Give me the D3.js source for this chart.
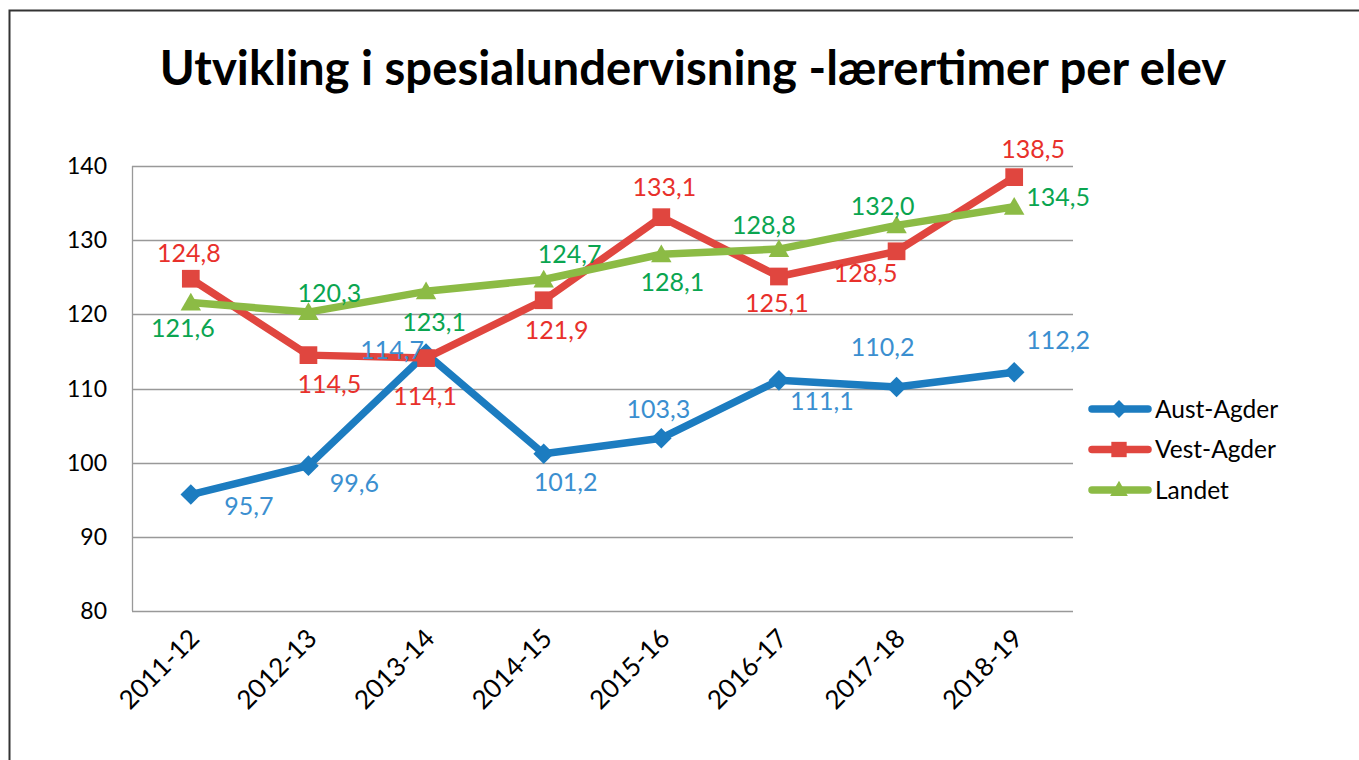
<!DOCTYPE html>
<html>
<head>
<meta charset="utf-8">
<script src="https://cdn.jsdelivr.net/npm/d3@7/dist/d3.min.js"></script>
<style>
  html, body { margin: 0; padding: 0; background: #fff; }
  svg { display: block; }
</style>
</head>
<body>
<svg id="chart" width="1359" height="760"></svg>
<script>
// School years on the x axis
const years = ["2011-12", "2012-13", "2013-14", "2014-15", "2015-16", "2016-17", "2017-18", "2018-19"];

// Teacher hours per pupil in special education
const austAgder = [95.7, 99.6, 114.7, 101.2, 103.3, 111.1, 110.2, 112.2];
const vestAgder = [124.8, 114.5, 114.1, 121.9, 133.1, 125.1, 128.5, 138.5];
const landet    = [121.6, 120.3, 123.1, 124.7, 128.1, 128.8, 132.0, 134.5];

const seriesNames = ["Aust-Agder", "Vest-Agder", "Landet"];
const yTicks = [80, 90, 100, 110, 120, 130, 140];

// Data label offsets (px) from each marker, per series
const labelOffsets = [
  [[58, 12], [46, 18], [-34, -3], [22, 28], [-3, -29], [43, 21], [-14, -40], [44, -32]],
  [[-2, -25], [21, 29], [-1, 38], [13, 30], [3, -30], [-2, 27], [-31, 22], [19, -28]],
  [[-8, 26], [21, -19], [8, 31], [26, -25], [11, 28], [-15, -24], [-14, -19], [44, -10]]
];

const lineColors  = ["#1c7cc0", "#e0463f", "#8cbb45"];
const labelColors = ["#3b8fd0", "#e8302b", "#0aa550"];
const symbols = [d3.symbolDiamond2, d3.symbolSquare2, d3.symbolTriangle2];
const font = "Lato, 'Open Sans', sans-serif";

const svg = d3.select("#chart");

// outer frame
svg.append("rect")
  .attr("x", 9.5).attr("y", 10.5)
  .attr("width", 1400).attr("height", 800)
  .attr("fill", "none").attr("stroke", "#333").attr("stroke-width", 2);

const plot = { left: 132, right: 1073, top: 166, bottom: 611 };

const x = d3.scaleBand().domain(years).range([plot.left, plot.right]);
const y = d3.scaleLinear().domain([80, 140]).range([plot.bottom, plot.top]);
const cx = d => x(d) + x.bandwidth() / 2;

// horizontal grid
svg.append("g").selectAll("line").data(yTicks).join("line")
  .attr("x1", plot.left).attr("x2", plot.right)
  .attr("y1", d => Math.round(y(d)) + 0.5).attr("y2", d => Math.round(y(d)) + 0.5)
  .attr("stroke", "#999").attr("stroke-width", 1.3);

// left axis line
svg.append("line")
  .attr("x1", plot.left + 0.5).attr("x2", plot.left + 0.5)
  .attr("y1", plot.top).attr("y2", plot.bottom)
  .attr("stroke", "#999").attr("stroke-width", 1.3);

// y tick labels
svg.append("g").selectAll("text").data(yTicks).join("text")
  .attr("x", 107).attr("y", d => y(d))
  .attr("dy", "0.35em")
  .attr("text-anchor", "end")
  .attr("font-family", font).attr("font-size", 23).attr("fill", "#000")
  .text(d => d);

// x tick labels, rotated
svg.append("g").selectAll("text").data(years).join("text")
  .attr("transform", d => `translate(${cx(d) + 10},${plot.bottom + 29}) rotate(-45)`)
  .attr("text-anchor", "end")
  .attr("font-family", font).attr("font-size", 26).attr("fill", "#000")
  .text(d => d);

// title
const title = svg.append("text")
  .attr("x", 693).attr("y", 85)
  .attr("text-anchor", "middle")
  .attr("font-family", font).attr("font-weight", "bold")
  .attr("font-size", 37).attr("fill", "#000")
  .text("Utvikling i spesialundervisning -lærertimer per elev");
const tw = title.node().getComputedTextLength();
title.attr("font-size", 37 * 1067 / tw);

const allSeries = [austAgder, vestAgder, landet];
const line = d3.line().x((d, i) => cx(years[i])).y(d => y(d));

const markerSizes = [270, 400, 300];

// lines and markers
allSeries.forEach((vals, s) => {
  svg.append("path").datum(vals)
    .attr("d", line)
    .attr("fill", "none").attr("stroke", lineColors[s])
    .attr("stroke-width", 7.5).attr("stroke-linejoin", "round");
  svg.append("g").selectAll("path").data(vals).join("path")
    .attr("transform", (d, i) => `translate(${cx(years[i])},${y(d) + (s === 2 ? 2 : 0)})`)
    .attr("d", d3.symbol().type(symbols[s]).size(markerSizes[s]))
    .attr("fill", lineColors[s]);
});

// data labels
const fmt = v => v.toFixed(1).replace(".", ",");
allSeries.forEach((vals, s) => {
  svg.append("g").selectAll("text").data(vals).join("text")
    .attr("x", (d, i) => cx(years[i]) + labelOffsets[s][i][0])
    .attr("y", (d, i) => y(d) + labelOffsets[s][i][1])
    .attr("dy", "0.35em")
    .attr("text-anchor", "middle")
    .attr("font-family", font).attr("font-size", 25)
    .attr("fill", labelColors[s])
    .text(d => fmt(d));
});

// legend
const legend = svg.append("g");
seriesNames.forEach((name, s) => {
  const ly = 409 + s * 40.5;
  legend.append("line")
    .attr("x1", 1092).attr("x2", 1148).attr("y1", ly).attr("y2", ly)
    .attr("stroke", lineColors[s]).attr("stroke-width", 7.5).attr("stroke-linecap", "round");
  legend.append("path")
    .attr("transform", `translate(1119,${ly + (s === 2 ? 1 : 0)})`)
    .attr("d", d3.symbol().type(symbols[s]).size(markerSizes[s] * 0.75))
    .attr("fill", lineColors[s]);
  legend.append("text")
    .attr("x", 1155).attr("y", ly).attr("dy", "0.35em")
    .attr("font-family", font).attr("font-size", 24.5).attr("fill", "#000")
    .text(name);
});
</script>
</body>
</html>
